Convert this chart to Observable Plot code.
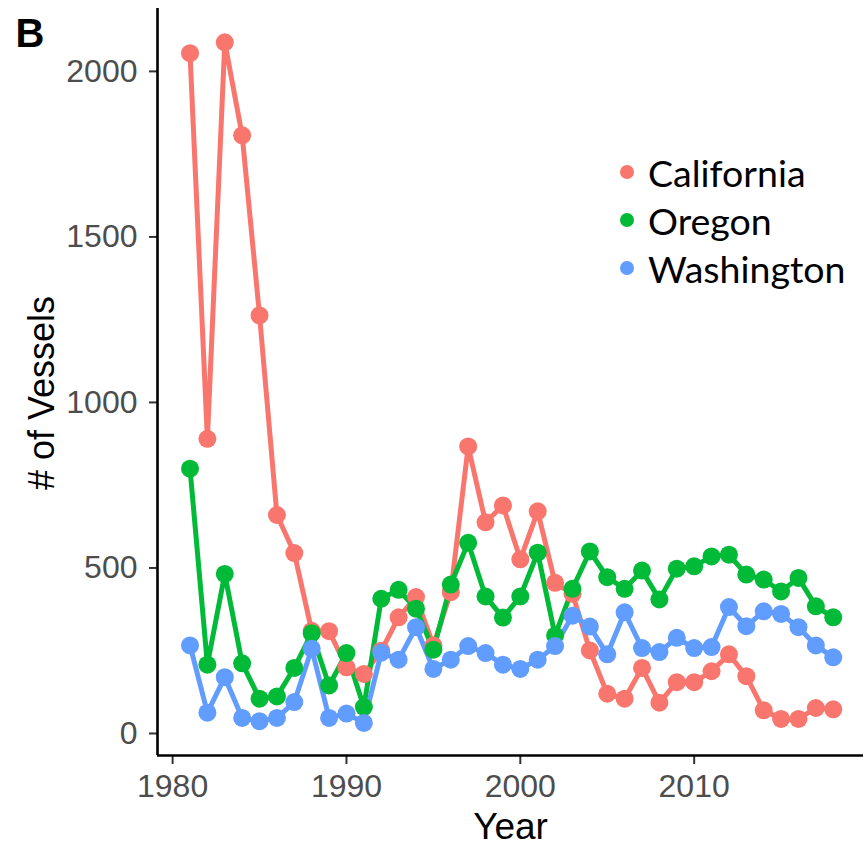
<!DOCTYPE html>
<html>
<head>
<meta charset="utf-8">
<script src="https://cdn.jsdelivr.net/npm/d3@7"></script>
<script src="https://cdn.jsdelivr.net/npm/@observablehq/plot@0.6"></script>
<style>
  html, body { margin: 0; padding: 0; background: #fff; }
  #wrap { position: relative; width: 863px; height: 848px; }
  #legend { position: absolute; left: 620px; top: 148px; font-family: "Lato", "Open Sans", sans-serif; font-size: 37.5px; color: #000; }
  #legend .row { display: flex; align-items: center; height: 48px; }
  #legend .dot { width: 14px; height: 14px; border-radius: 50%; margin-right: 14px; flex: none; }
</style>
</head>
<body>
<div id="wrap"><div id="legend"></div></div>
<script>
const years = [1981,1982,1983,1984,1985,1986,1987,1988,1989,1990,1991,1992,1993,1994,1995,1996,1997,1998,1999,2000,2001,2002,2003,2004,2005,2006,2007,2008,2009,2010,2011,2012,2013,2014,2015,2016,2017,2018];
const california = [2055,890,2088,1807,1263,660,545,310,309,200,180,250,351,412,266,427,867,638,689,526,671,455,422,251,120,105,198,93,155,155,188,239,173,70,44,44,77,73];
const oregon = [800,208,482,212,105,112,198,303,145,243,80,407,434,377,253,450,576,414,350,414,546,296,437,550,472,437,492,405,498,505,535,540,480,465,429,470,384,351];
const washington = [266,63,170,47,37,47,95,256,47,60,32,244,223,321,195,223,264,243,208,195,223,264,356,323,239,366,258,246,289,258,261,382,324,369,361,321,266,230];
const states = ["California", "Oregon", "Washington"];
const colors = ["#F8766D", "#00BA38", "#619CFF"];
const xTicks = [1980, 1990, 2000, 2010];
const yTicks = [0, 500, 1000, 1500, 2000];
const xDomain = [1979.13, 2019.74];
const yDomain = [-66.5, 2190];

const series = {California: california, Oregon: oregon, Washington: washington};
const data = states.flatMap(s => years.map((y, i) => ({state: s, year: y, vessels: series[s][i]})));

const chart = Plot.plot({
  width: 863,
  height: 848,
  marginLeft: 157,
  marginRight: 0,
  marginTop: 8,
  marginBottom: 93,
  style: {fontFamily: "'Liberation Sans', Arial, sans-serif", background: "white", overflow: "visible"},
  x: {domain: xDomain},
  y: {domain: yDomain},
  color: {domain: states, range: colors},
  marks: [
    Plot.axisX({ticks: xTicks, tickFormat: d => String(d), tickSize: 9, tickPadding: 10, fontSize: 32, stroke: "#333", strokeWidth: 2, fill: "#4d4d4d", label: null}),
    Plot.axisY({ticks: yTicks, tickFormat: d => String(d), tickSize: 8, tickPadding: 12, fontSize: 32, stroke: "#333", strokeWidth: 2, fill: "#4d4d4d", label: null}),
    Plot.ruleX([xDomain[0]], {stroke: "black", strokeWidth: 2.6}),
    Plot.ruleY([yDomain[0]], {stroke: "black", strokeWidth: 2.6}),
    Plot.line(data, {x: "year", y: "vessels", z: "state", stroke: "state", strokeWidth: 5, strokeLinejoin: "round", strokeLinecap: "butt"}),
    Plot.dot(data, {x: "year", y: "vessels", fill: "state", r: 9, stroke: null}),
    Plot.text(["Year"], {frameAnchor: "bottom", dy: 72, fontSize: 37, fill: "black", lineAnchor: "middle", textAnchor: "middle"}),
    Plot.text(["# of Vessels"], {frameAnchor: "left", dx: -115, dy: 11, rotate: -90, fontSize: 36, fill: "black", lineAnchor: "middle", textAnchor: "middle"}),
    Plot.text(["B"], {frameAnchor: "top-left", dx: -142, dy: 10, textAnchor: "start", lineAnchor: "top", fontSize: 40, fontWeight: "bold", fill: "black"})
  ]
});
document.getElementById("wrap").prepend(chart);

const legend = document.getElementById("legend");
states.forEach((s, i) => {
  const row = document.createElement("div");
  row.className = "row";
  const dot = document.createElement("span");
  dot.className = "dot";
  dot.style.background = colors[i];
  const label = document.createElement("span");
  label.textContent = s;
  row.append(dot, label);
  legend.append(row);
});
</script>
</body>
</html>
